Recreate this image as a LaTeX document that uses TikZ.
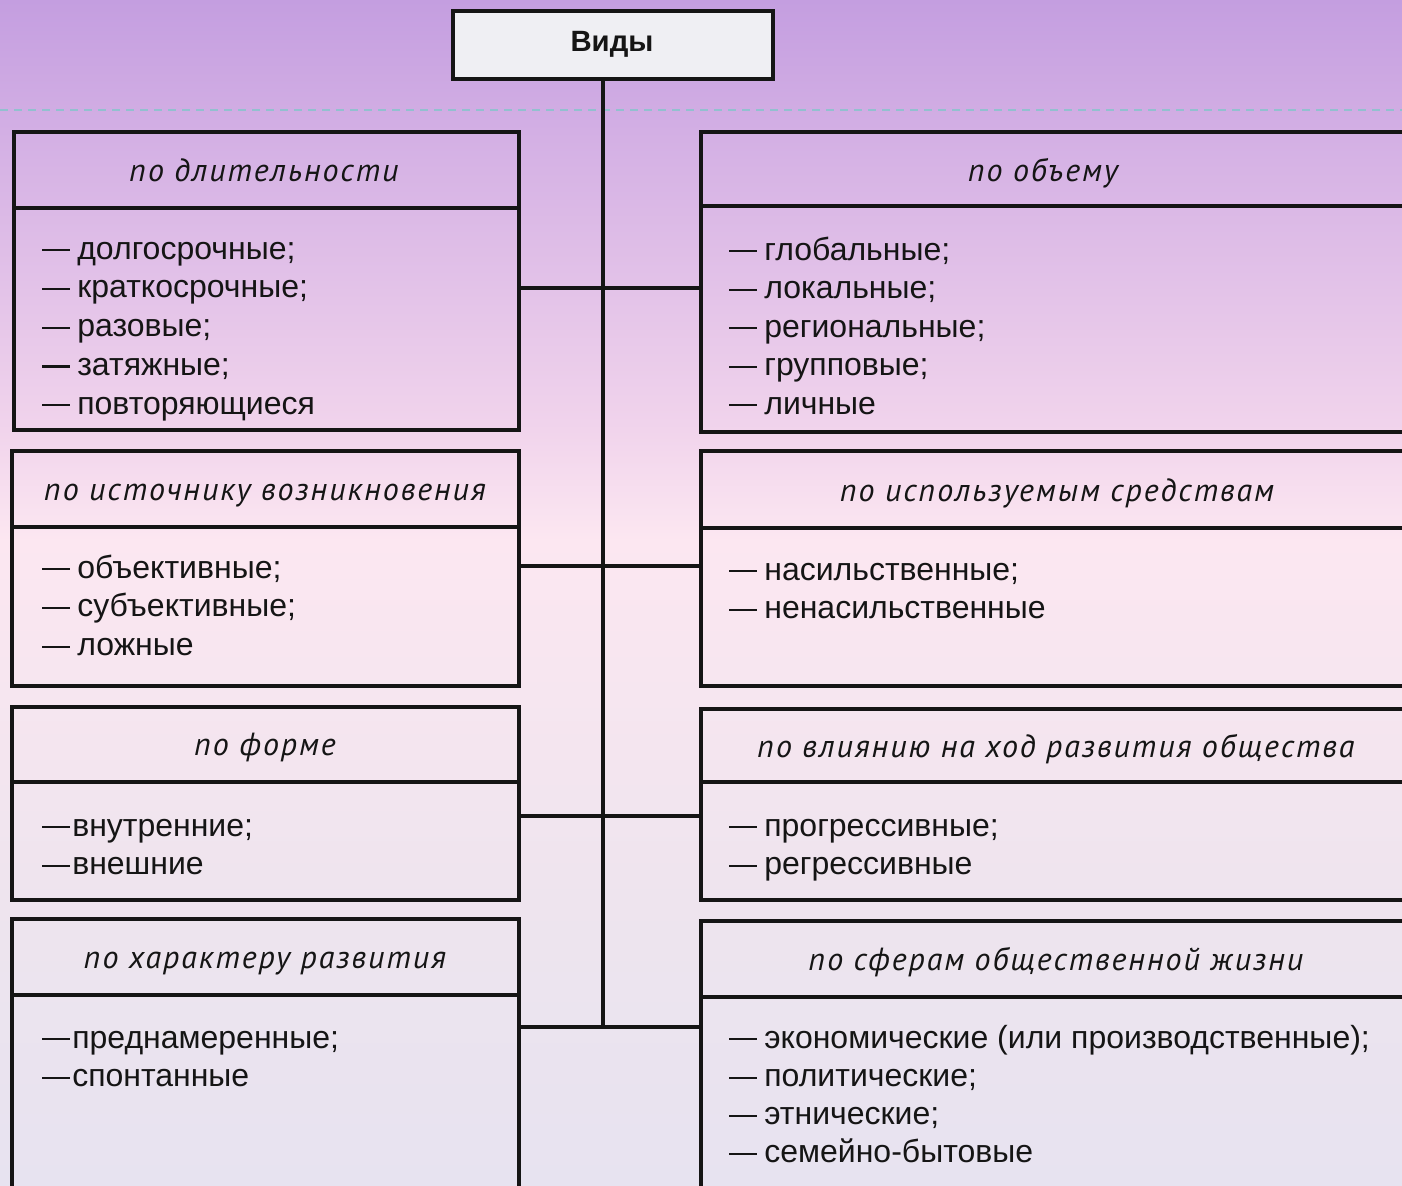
\documentclass[tikz,border=0pt]{standalone}
\usepackage{fontspec}
\setmainfont{Liberation Sans}
\newfontfamily\hdrfont{PT Sans}[LetterSpace=6]
\usetikzlibrary{fit}
\definecolor{bg0}{HTML}{C49EE0}
\definecolor{bg1}{HTML}{D3AFE4}
\definecolor{bg2}{HTML}{F1D4EC}
\definecolor{bg3}{HTML}{FCE7F1}
\definecolor{bg4}{HTML}{EEE4EE}
\definecolor{bg5}{HTML}{E7E3F0}
\definecolor{ink}{HTML}{151515}
\definecolor{dashc}{HTML}{92C0CF}
\definecolor{topfill}{HTML}{EFEFF3}
\newcommand\itemdash{\rule[0.24em]{21pt}{1.6pt}\hspace{5.3pt}}
\newcommand\itemdashn{\rule[0.24em]{21pt}{1.6pt}\hspace{1.5pt}}
\newcommand\itemcol[6]{%
  \foreach \t [count=\i] in {#6} {\node[itm] (#1-\i) at (#2,{#3+(\i-1)*#4}) {#5\t};}}
\begin{document}
\begin{tikzpicture}[x=0.75pt,y=-0.75pt,
  frame/.style={draw=ink, line width=2.3pt, inner sep=0pt},
  conn/.style={draw=ink, line width=2.3pt},
  hdr/.style={font=\hdrfont\itshape\fontsize{24}{28}\selectfont, text=ink, inner sep=0pt, anchor=base},
  itm/.style={font=\fontsize{24}{28}\selectfont, text=ink, inner sep=0pt, anchor=base west}]
\useasboundingbox (0,0) rectangle (1402,1185);
\begin{scope}
\clip (0,0) rectangle (1402,1185);
% background
\shade[top color=bg0,bottom color=bg1] (0,0) rectangle (1402,131);
\shade[top color=bg1,bottom color=bg2] (0,130) rectangle (1402,431);
\shade[top color=bg2,bottom color=bg3] (0,430) rectangle (1402,541);
\shade[top color=bg3,bottom color=bg4] (0,540) rectangle (1402,901);
\shade[top color=bg4,bottom color=bg5] (0,900) rectangle (1402,1185);
\draw[dashc, line width=1.1pt, dash pattern=on 6pt off 4.5pt] (0,110) -- (1402,110);
% top box
\node[frame, fill=topfill, fit={(453,11) (773,79)}] (V) {};
\node[font=\bfseries\fontsize{22}{26}\selectfont, text=ink, inner sep=0pt, anchor=base] (Vt) at (612,51) {Виды};
% trunk
\coordinate (tend) at (603,1027);
\draw[conn] (tend |- V.south) -- (tend);
% left boxes
\node[frame, fit={(14,132) (519,208)}] (L1h) {};
\node[frame, fit={(14,208) (519,430)}] (L1b) {};
\node[hdr] (L1t) at (264,181) {по длительности};
\itemcol{L1}{42}{259}{38.75}{\itemdash}{долгосрочные;,краткосрочные;,разовые;,затяжные;,повторяющиеся}
\node[frame, fit={(12,451) (519,527)}] (L2h) {};
\node[frame, fit={(12,527) (519,686)}] (L2b) {};
\node[hdr] (L2t) at (265,500) {по источнику возникновения};
\itemcol{L2}{42}{578}{38.75}{\itemdash}{объективные;,субъективные;,ложные}
\node[frame, fit={(12,707) (519,782)}] (L3h) {};
\node[frame, fit={(12,782) (519,900)}] (L3b) {};
\node[hdr] (L3t) at (265,755) {по форме};
\itemcol{L3}{42}{836}{38.5}{\itemdashn}{внутренние;,внешние}
\node[frame, fit={(12,919) (519,995)}] (L4h) {};
\node[frame, fit={(12,995) (519,1200)}] (L4b) {};
\node[hdr] (L4t) at (265,968) {по характеру развития};
\itemcol{L4}{42}{1048}{38.5}{\itemdashn}{преднамеренные;,спонтанные}
% right boxes
\node[frame, fit={(701,132) (1412,206)}] (R1h) {};
\node[frame, fit={(701,206) (1412,432)}] (R1b) {};
\node[hdr] (R1t) at (1043,181) {по объему};
\itemcol{R1}{729}{260}{38.5}{\itemdash}{глобальные;,локальные;,региональные;,групповые;,личные}
\node[frame, fit={(701,451) (1412,528)}] (R2h) {};
\node[frame, fit={(701,528) (1412,686)}] (R2b) {};
\node[hdr] (R2t) at (1057,501) {по используемым средствам};
\itemcol{R2}{729}{580}{38.5}{\itemdash}{насильственные;,ненасильственные}
\node[frame, fit={(701,709) (1412,782)}] (R3h) {};
\node[frame, fit={(701,782) (1412,900)}] (R3b) {};
\node[hdr] (R3t) at (1056,757) {по влиянию на ход развития общества};
\itemcol{R3}{729}{836}{38.5}{\itemdash}{прогрессивные;,регрессивные}
\node[frame, fit={(701,921) (1412,997)}] (R4h) {};
\node[frame, fit={(701,997) (1412,1200)}] (R4b) {};
\node[hdr] (R4t) at (1056,970) {по сферам общественной жизни};
\itemcol{R4}{729}{1048}{38.3}{\itemdash}{экономические (или производственные);,политические;,этнические;,семейно-бытовые}
% connectors
\coordinate (c1) at (603,288);
\coordinate (c2) at (603,566);
\coordinate (c3) at (603,816);
\draw[conn] (L1b.east |- c1) -- (R1b.west |- c1);
\draw[conn] (L2b.east |- c2) -- (R2b.west |- c2);
\draw[conn] (L3b.east |- c3) -- (R3b.west |- c3);
\draw[conn] (L4b.east |- tend) -- (R4b.west |- tend);
\end{scope}
\end{tikzpicture}
\end{document}
